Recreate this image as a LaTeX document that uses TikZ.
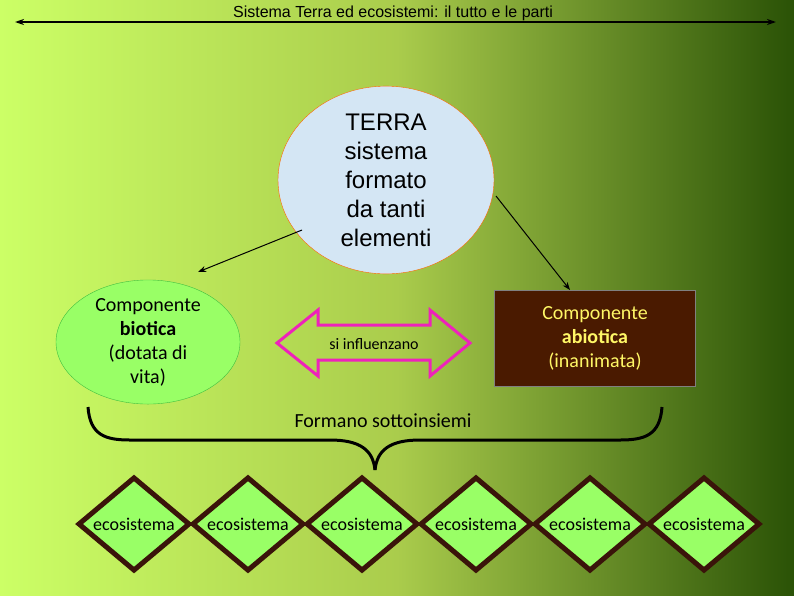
\documentclass[tikz,border=0pt]{standalone}
\usepackage{fontspec}
\setmainfont{Carlito}
\newfontfamily\arialf{Liberation Sans}
\usetikzlibrary{shapes.geometric,arrows.meta}
\definecolor{bgl}{HTML}{CCFF66}
\definecolor{bgm}{HTML}{AACC4C}
\definecolor{bgr}{HTML}{2A5206}
\definecolor{dgreen}{HTML}{99FF66}
\definecolor{dbrown}{HTML}{3A140A}
\definecolor{rbrown}{HTML}{4A1A00}
\definecolor{pinkc}{HTML}{EE22BB}
\definecolor{lblue}{HTML}{D4E6F4}
\tikzset{
 eco/.style={diamond,draw=dbrown,line width=5pt,fill=dgreen,minimum width=112pt,minimum height=94pt,inner sep=0pt,font=\fontsize{18}{18}\selectfont},
 conn/.style={-{Stealth[length=8pt,width=6pt]},line width=1pt}
}
\begin{document}
\begin{tikzpicture}[x=1pt,y=-1pt]
\shade[left color=bgl,right color=bgr,middle color=bgm] (0,0) rectangle (794,595);
\useasboundingbox (0,0) rectangle (794,595);
\node[font=\arialf\fontsize{16}{16}\selectfont] (title) at (393,13) {Sistema Terra ed ecosistemi: il tutto e le parti};
\coordinate (tl) at (15,22); \coordinate (tr) at (776,22);
\draw[{Stealth[length=9pt,width=6pt]}-{Stealth[length=9pt,width=6pt]},line width=2pt] (tl) -- (tr);
\node[ellipse,draw=orange!80!red,fill=lblue,minimum width=216pt,minimum height=174pt,align=center,font=\arialf\fontsize{24}{29}\selectfont,inner sep=0pt] (terra) at (386,180) {TERRA\\sistema\\formato\\da tanti\\elementi};
\node[ellipse,draw=green!50!gray,fill=dgreen,minimum width=184pt,minimum height=114pt,inner sep=0pt,align=center,font=\fontsize{20}{24}\selectfont] (bio) at (148,342) {Componente\\\textbf{biotica}\\(dotata di\\vita)};
\node[draw=gray,fill=rbrown,minimum width=201pt,minimum height=96pt,align=center,text=yellow!60!white,font=\fontsize{20}{24}\selectfont] (abio) at (595,338) {Componente\\\textbf{abiotica}\\(inanimata)};
\coordinate (a1s) at (302,230); \coordinate (a1e) at (198,272);
\coordinate (a2s) at (496,196); \coordinate (a2e) at (570,290);
\draw[conn] (a1s) -- (a1e);
\draw[conn] (a2s) -- (a2e);
\draw[pinkc,line width=3pt,line join=miter] (277,343) -- (318,310) -- (318,325) -- (430,325) -- (430,310) -- (470,343) -- (430,376) -- (430,360) -- (318,360) -- (318,376) -- cycle;
\node[font=\fontsize{16}{16}\selectfont] (infl) at (374,344) {si influenzano};
\node[font=\fontsize{20}{20}\selectfont] (form) at (383,421) {Formano sottoinsiemi};
\draw[line width=3pt] (88,407) .. controls (90,435) and (105,440) .. (130,440) -- (330,440) .. controls (360,440) and (373,450) .. (375,470);
\draw[line width=3pt] (662,407) .. controls (660,435) and (645,440) .. (620,440) -- (420,440) .. controls (390,440) and (377,450) .. (375,470);
\foreach \i/\x in {1/134,2/248,3/362,4/476,5/590,6/704}
  \node[eco] (e\i) at (\x,524) {ecosistema};
\end{tikzpicture}
\end{document}
